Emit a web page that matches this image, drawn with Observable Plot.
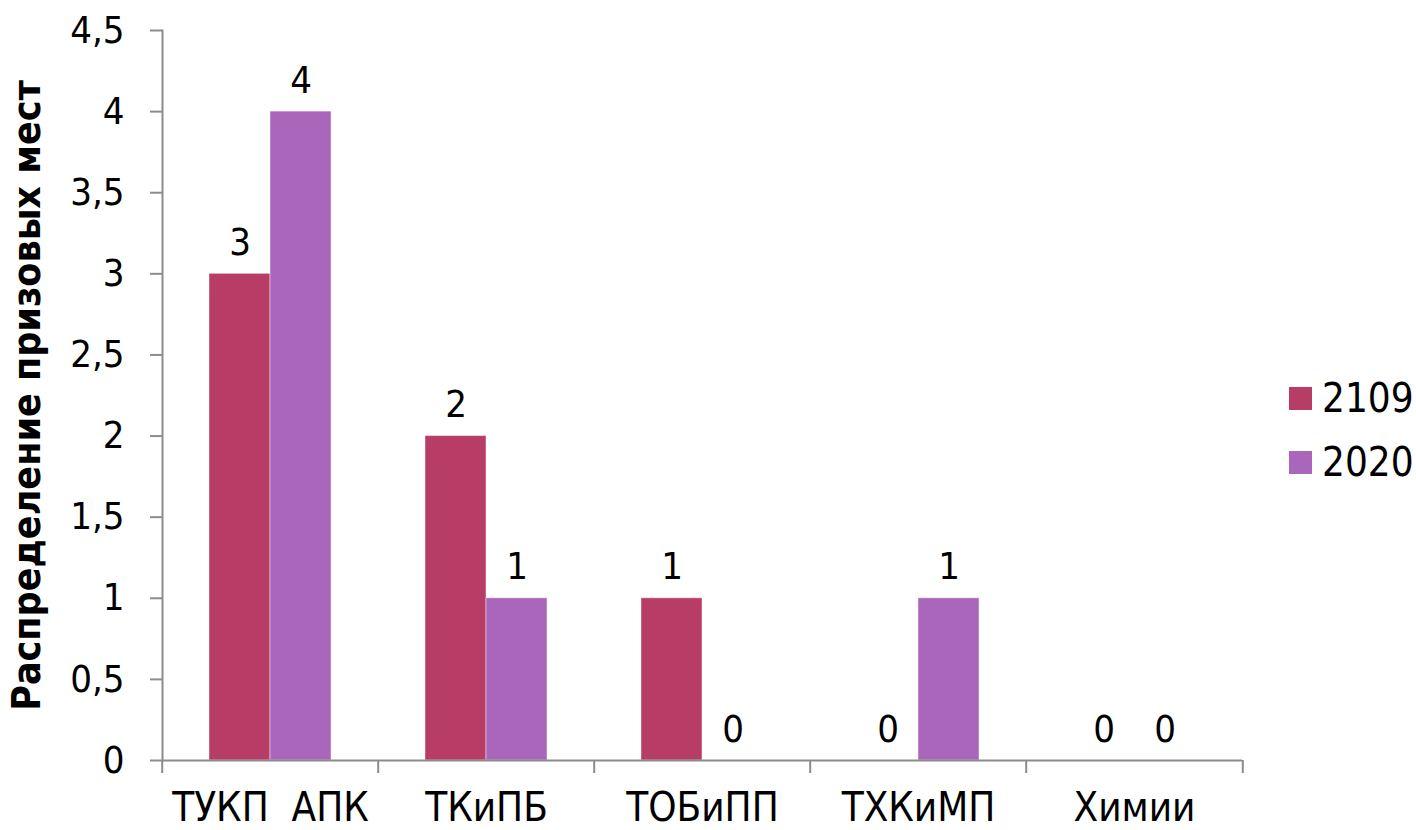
<!DOCTYPE html>
<html>
<head>
<meta charset="utf-8">
<script src="https://cdn.jsdelivr.net/npm/d3@7"></script>
<script src="https://cdn.jsdelivr.net/npm/@observablehq/plot@0.6"></script>
<style>
  html, body { margin: 0; padding: 0; background: #fff; }
  #wrap { position: relative; width: 1416px; height: 830px; font-family: "DejaVu Sans Condensed", "DejaVu Sans", sans-serif; }
  #wrap svg text { white-space: pre; }
  g[aria-label="y-axis label"] text { font-weight: bold; font-size: 39px; }
  #legend { position: absolute; left: 1289px; top: 366px; font-size: 40px; color: #000; }
  #legend .item { display: flex; align-items: center; height: 64px; }
  #legend .sw { width: 23px; height: 23px; margin-right: 10px; }
</style>
</head>
<body>
<div id="wrap"></div>
<script>
const categories = ["ТУКП  АПК", "ТКиПБ", "ТОБиПП", "ТХКиМП", "Химии"];
const series = ["2109", "2020"];
const values2109 = [3, 2, 1, 0, 0];
const values2020 = [4, 1, 0, 1, 0];
const colors = ["#B83D66", "#AA66BB"];
const yTicks = [0, 0.5, 1, 1.5, 2, 2.5, 3, 3.5, 4, 4.5];
const yLabel = "Распределение призовых мест";

const data = [];
categories.forEach((c, i) => {
  data.push({cat: c, series: series[0], value: values2109[i]});
  data.push({cat: c, series: series[1], value: values2020[i]});
});

const W = 1416, H = 830, mL = 160, mR = 173, mT = 30, mB = 70;
const step = (W - mL - mR) / categories.length;
const gray = "#8c8c8c";
const fmt = d => String(d).replace(".", ",");

const chart = Plot.plot({
  width: W, height: H,
  marginLeft: mL, marginRight: mR, marginTop: mT, marginBottom: mB,
  style: {fontFamily: '"DejaVu Sans Condensed", "DejaVu Sans", sans-serif', color: "#000", background: "#fff"},
  fx: {domain: categories, padding: 0, axis: null},
  x: {domain: series, paddingInner: 0, paddingOuter: 0.747, axis: null},
  y: {domain: [0, 4.5], axis: null},
  color: {domain: series, range: colors},
  marks: [
    Plot.barY(data, {fx: "cat", x: "series", y: "value", fill: "series", stroke: "#fff", strokeOpacity: 0.45, strokeWidth: 1}),
    Plot.text(data, {fx: "cat", x: "series", y: "value", text: d => fmt(d.value), dy: -19, lineAnchor: "bottom", fontSize: 38, fill: "#000"}),
    Plot.ruleY([0], {stroke: gray, strokeWidth: 2}),
    Plot.frame({anchor: "left", facetAnchor: "left", stroke: gray, strokeWidth: 2}),
    Plot.axisY({ticks: yTicks, tickFormat: fmt, tickSize: 12, tickPadding: 26, fontSize: 38, stroke: gray, strokeWidth: 2,
      label: yLabel, labelAnchor: "center", labelArrow: "none", labelOffset: 150}),
    Plot.axisFx({anchor: "bottom", tickSize: 13, tickFormat: () => "", dx: -step / 2, stroke: gray, strokeWidth: 2, label: null}),
    Plot.axisFx({anchor: "bottom", ticks: [categories[categories.length - 1]], tickSize: 13, tickFormat: () => "", dx: step / 2, stroke: gray, strokeWidth: 2, label: null}),
    Plot.axisFx({anchor: "bottom", tickSize: 0, tickPadding: 32, fontSize: 40, label: null})
  ]
});
document.getElementById("wrap").appendChild(chart);

const legend = document.createElement("div");
legend.id = "legend";
series.forEach((s, i) => {
  const item = document.createElement("div");
  item.className = "item";
  const sw = document.createElement("div");
  sw.className = "sw";
  sw.style.background = colors[i];
  const t = document.createElement("span");
  t.textContent = s;
  item.appendChild(sw); item.appendChild(t);
  legend.appendChild(item);
});
document.getElementById("wrap").appendChild(legend);
</script>
</body>
</html>
